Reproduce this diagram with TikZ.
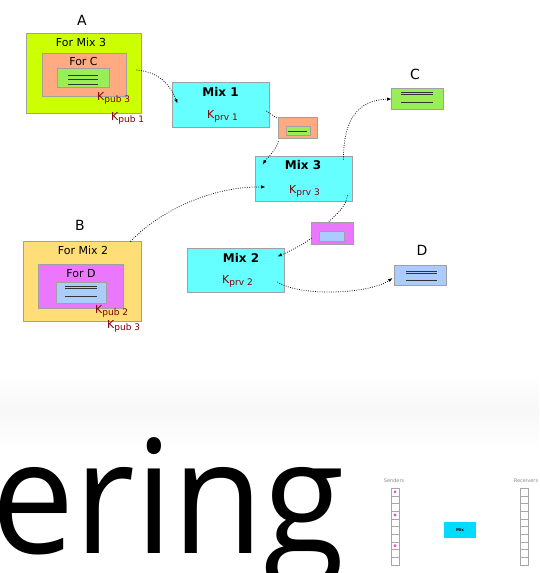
\documentclass[tikz,border=0pt]{standalone}
\usepackage{fontspec}
\setmainfont{DejaVu Sans}
\newfontfamily\titlefont{Open Sans}
\usetikzlibrary{arrows.meta}

\definecolor{mixcyan}{RGB}{102,255,255}
\definecolor{limegreen}{RGB}{204,255,0}
\definecolor{salmonbox}{RGB}{255,170,128}
\definecolor{msggreen}{RGB}{153,238,85}
\definecolor{sandbox}{RGB}{255,221,119}
\definecolor{orchidbox}{RGB}{236,119,255}
\definecolor{paleblue}{RGB}{170,204,255}
\definecolor{keyred}{RGB}{128,0,0}
\definecolor{edgegray}{RGB}{160,160,160}
\definecolor{minicyan}{RGB}{0,220,255}
\definecolor{dotpink}{RGB}{235,70,235}

\newcommand\keysub[1]{\raisebox{-2.5pt}{\fontsize{9}{9}\selectfont #1}}

\tikzset{
  panel/.style={draw=edgegray, line width=0.9pt, inner sep=0pt, rectangle},
  mixbox/.style={panel, fill=mixcyan, minimum width=97pt, minimum height=45pt},
  lbl/.style={inner sep=0pt, font=\fontsize{11}{12}\selectfont},
  mixtitle/.style={inner sep=0pt, font=\fontsize{12}{13}\selectfont\bfseries},
  party/.style={inner sep=0pt, font=\fontsize{14}{15}\selectfont},
  keylbl/.style={inner sep=0pt, anchor=base west, text=keyred, font=\fontsize{11}{12}\selectfont},
  msgline/.style={draw=black!80, line width=0.8pt},
  conn/.style={draw=black, line width=0.75pt, dash pattern=on 0.8pt off 1.5pt},
  arr/.style={conn, -{Latex[length=4.5pt,width=3.5pt]}},
  cell/.style={draw=black!35, line width=0.4pt, minimum width=8pt, minimum height=7.7pt, inner sep=0pt},
  tiny/.style={inner sep=0pt, text=black!45, font=\fontsize{5}{5}\selectfont},
}

\begin{document}
\begin{tikzpicture}[x=1pt,y=-1pt]
\useasboundingbox (0,0) rectangle (539,573);
\fill[white] (0,0) rectangle (539,573);

% faint band between the two halves
\shade[top color=white, bottom color=black!3] (0,375) rectangle (539,410);
\shade[top color=black!3, bottom color=white] (0,410) rectangle (539,448);

% large heading fragment
\node[anchor=base west, inner sep=0pt, font=\titlefont\fontsize{158}{158}\selectfont] (word) at (-9,553) {\scalebox{0.94}[1]{ering}};

% ---------- sender A ----------
\node[party] (labA) at (82,20) {A};
\node[panel, fill=limegreen, minimum width=115pt, minimum height=80pt] (boxA) at (83.5,73) {};
\node[panel, fill=salmonbox, minimum width=84pt, minimum height=43pt] (boxAC) at (84,74.5) {};
\node[panel, fill=msggreen, minimum width=52pt, minimum height=19pt] (msgA) at (83,77.5) {};
\draw[msgline] ([shift={(-15,-1.8)}]msgA.center) -- ++(30,0);
\draw[msgline] ([shift={(-15,1.5)}]msgA.center) -- ++(30,0);
\draw[msgline] ([shift={(-15,7)}]msgA.center) -- ++(30,0);
\node[lbl] (forMix3) at (81,42.5) {For Mix 3};
\node[lbl] (forC) at (83.5,61) {For C};
\node[keylbl] (kA3) at (97,100) {K\keysub{pub 3}};
\node[keylbl] (kA1) at (111,120) {K\keysub{pub 1}};

% ---------- sender B ----------
\node[party] (labB) at (80,225) {B};
\node[panel, fill=sandbox, minimum width=118pt, minimum height=80pt] (boxB) at (82,281) {};
\node[panel, fill=orchidbox, minimum width=85pt, minimum height=44pt] (boxBD) at (80.5,286) {};
\node[panel, fill=paleblue, minimum width=50pt, minimum height=21pt] (msgB) at (81,292.5) {};
\draw[msgline] ([shift={(-16,-6.5)}]msgB.center) -- ++(32,0);
\draw[msgline] ([shift={(-16,-3.8)}]msgB.center) -- ++(32,0);
\draw[msgline] ([shift={(-16,3.5)}]msgB.center) -- ++(32,0);
\node[lbl] (forMix2) at (83,250) {For Mix 2};
\node[lbl] (forD) at (81,273.5) {For D};
\node[keylbl] (kB2) at (95,313) {K\keysub{pub 2}};
\node[keylbl] (kB3) at (107,328) {K\keysub{pub 3}};

% ---------- mixes ----------
\node[mixbox] (mix1) at (220.5,104.5) {};
\node[mixtitle] (mix1t) at (220.5,91.5) {Mix 1};
\node[keylbl] (mix1k) at (207,118) {K\keysub{prv 1}};

\node[mixbox] (mix3) at (303.5,178.5) {};
\node[mixtitle] (mix3t) at (303,165) {Mix 3};
\node[keylbl] (mix3k) at (289,193) {K\keysub{prv 3}};

\node[mixbox, minimum height=44pt] (mix2) at (235.5,270) {};
\node[mixtitle] (mix2t) at (241,258) {Mix 2};
\node[keylbl] (mix2k) at (222,283) {K\keysub{prv 2}};

% ---------- messages in transit ----------
\node[panel, fill=salmonbox, minimum width=39pt, minimum height=21pt] (hopA) at (297.5,127.5) {};
\node[panel, fill=msggreen, minimum width=24pt, minimum height=9pt] (hopAin) at (298,130.5) {};
\draw[msgline] ([shift={(-10,1.2)}]hopAin.center) -- ++(19,0);

\node[panel, fill=orchidbox, minimum width=42pt, minimum height=22pt] (hopB) at (332,233) {};
\node[panel, fill=paleblue, minimum width=25pt, minimum height=10pt] (hopBin) at (331.5,236) {};

% ---------- receivers ----------
\node[party] (labC) at (415,74) {C};
\node[panel, fill=msggreen, minimum width=52pt, minimum height=21pt] (boxC) at (417,98.5) {};
\draw[msgline] ([shift={(-16,-6.5)}]boxC.center) -- ++(32,0);
\draw[msgline] ([shift={(-16,-4.5)}]boxC.center) -- ++(32,0);
\draw[msgline] ([shift={(-16,3.5)}]boxC.center) -- ++(32,0);

\node[party] (labD) at (422,250) {D};
\node[panel, fill=paleblue, minimum width=52pt, minimum height=20pt] (boxD) at (420,275) {};
\draw[msgline] ([shift={(-14,-3.3)}]boxD.center) -- ++(31,0);
\draw[msgline] ([shift={(-14,-1.5)}]boxD.center) -- ++(31,0);
\draw[msgline] ([shift={(-14,5.7)}]boxD.center) -- ++(31,0);

% ---------- dotted routes ----------
\draw[arr] ([shift={(-5,-3)}]boxA.east) .. controls +(22,2) and +(-8,-20) .. ([shift={(6,22)}]mix1.north west);
\draw[conn] ([shift={(-3,6.5)}]mix1.east) -- ([shift={(0,2)}]hopA.north west);
\draw[arr] ([shift={(1,3)}]hopA.south west) .. controls +(-3,9) and +(5,-7) .. ([shift={(8,9)}]mix3.north west);
\draw[arr] ([shift={(-11,1)}]boxB.north east) .. controls +(30,-32) and +(-51,-1) .. ([shift={(11,8.5)}]mix3.west);
\draw[arr] ([shift={(-9,4)}]mix3.north east) .. controls +(0,-40) and +(-34,1) .. ([shift={(1,0.5)}]boxC.west);
\draw[conn] ([shift={(-5,-6)}]mix3.south east) .. controls +(-2,12) and +(8,-8) .. ([shift={(-3,0)}]hopB.north);
\draw[arr] ([shift={(1,5)}]hopB.west) .. controls +(-10,8) and +(9,-4) .. ([shift={(-7,9)}]mix2.north east);
\draw[arr] ([shift={(-7,12)}]mix2.east) .. controls +(23,15) and +(-23,16) .. ([shift={(-1,3)}]boxD.west);

% ---------- small overview diagram ----------
\node[tiny] (sendLbl) at (394,481) {Senders};
\node[tiny] (recvLbl) at (526,481) {Receivers};
\foreach \i in {0,...,9} {
  \node[cell] (s\i) at (395,{491.85+7.7*\i}) {};
  \node[cell] (r\i) at (524.5,{491.85+7.7*\i}) {};
}
\fill[dotpink] (s0.center) circle (1.6);
\fill[dotpink] (s3.center) circle (1.6);
\fill[dotpink] (s7.center) circle (1.6);
\node[fill=minicyan, minimum width=32pt, minimum height=16pt, inner sep=0pt, font=\fontsize{4}{4}\selectfont\bfseries] (miniMix) at (460,530) {Mix};
\end{tikzpicture}
\end{document}
